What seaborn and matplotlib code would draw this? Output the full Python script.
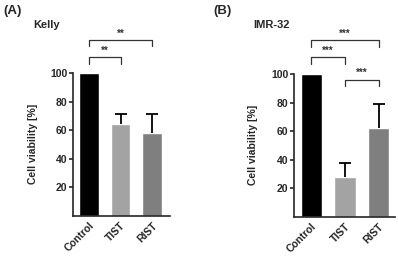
import numpy as np
import pandas as pd
import seaborn as sns
import matplotlib.pyplot as plt

sns.set_style('ticks')
plt.rcParams['font.family'] = ['Liberation Sans', 'DejaVu Sans']
plt.rcParams['font.weight'] = 'bold'

groups = ['Control', 'TIST', 'RIST']
colors = ['#000000', '#a3a3a3', '#7f7f7f']

kelly_mean = [100, 64, 58]
kelly_err = [0, 7, 13]
imr_mean = [100, 28, 62.5]
imr_err = [0, 10, 16.5]

# significance: (group i, group j, bracket level, label)
kelly_sig = [(0, 1, 111, '**'), (0, 2, 123, '**')]
imr_sig = [(0, 1, 111.5, '***'), (0, 2, 123.5, '***'), (1, 2, 96, '***')]

fig = plt.figure(figsize=(3.98, 2.59), dpi=100)
axA = fig.add_axes([73/398, 43/259, 97/398, 186/259])
axB = fig.add_axes([294/398, 42/259, 101/398, 186/259])


def draw(ax, means, errs, sig, xlim, width):
    df = pd.DataFrame({'group': groups, 'val': means})
    sns.barplot(data=df, x='group', y='val', hue='group', palette=colors,
                width=width, legend=False, ax=ax, saturation=1)
    x = np.arange(len(groups))[1:]
    m = np.array(means[1:])
    top = m + np.array(errs[1:])
    # one-sided error bars (upper only)
    ax.vlines(x, m, top, color='black', lw=1.3)
    ax.plot(x, top, marker='_', markersize=8, mew=1.3, ls='none', color='black')
    ax.set_xlim(*xlim)
    ax.set_ylim(0, 130)
    ax.set_yticks([20, 40, 60, 80, 100])
    ax.spines['left'].set_bounds(0, 100)
    ax.spines['top'].set_visible(False)
    ax.spines['right'].set_visible(False)
    for s in ['left', 'bottom']:
        ax.spines[s].set_linewidth(1.2)
    ax.tick_params(axis='y', length=3, width=1.2, labelsize=7.5, pad=1)
    ax.tick_params(axis='x', length=0, labelsize=7.5, pad=3)
    for lab in ax.get_xticklabels():
        lab.set_rotation(45)
        lab.set_ha('right')
        lab.set_rotation_mode('anchor')
        lab.set_fontweight('bold')
    for lab in ax.get_yticklabels():
        lab.set_fontweight('bold')
    ax.set_xlabel('')
    ax.set_ylabel('Cell viability [%]', fontsize=7.5, fontweight='bold')
    ax.yaxis.set_label_coords(-0.36, 0.39)
    for i, j, h, txt in sig:
        ax.plot([i, i, j, j], [h - 4.5, h, h, h - 4.5], color='#333333',
                lw=0.9, clip_on=False)
        ax.text((i + j) / 2, h + 1, txt, ha='center', va='bottom',
                fontsize=7, fontweight='bold', color='#333333', clip_on=False)


draw(axA, kelly_mean, kelly_err, kelly_sig, (-0.51, 2.57), 0.63)
draw(axB, imr_mean, imr_err, imr_sig, (-0.52, 2.49), 0.64)

fig.text(3/398, 1 - 14/259, '(A)', fontsize=9.5, fontweight='bold')
fig.text(33/398, 1 - 28/259, 'Kelly', fontsize=8, fontweight='bold')
fig.text(213/398, 1 - 14/259, '(B)', fontsize=9.5, fontweight='bold')
fig.text(253/398, 1 - 28/259, 'IMR-32', fontsize=8, fontweight='bold')

fig.savefig('out.png', dpi=100)
